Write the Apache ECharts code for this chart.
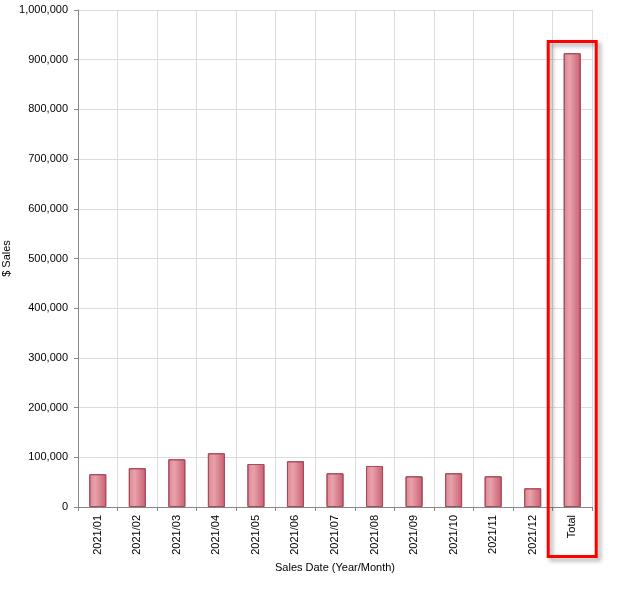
<!DOCTYPE html>
<html><head><meta charset="utf-8">
<script src="https://cdn.jsdelivr.net/npm/echarts@6/dist/echarts.min.js"></script>
<style>html,body{margin:0;padding:0;background:#fff}#c{width:635px;height:589px}</style>
</head><body><div id="c"></div>
<script>
var categories = ['2021/01','2021/02','2021/03','2021/04','2021/05','2021/06','2021/07','2021/08','2021/09','2021/10','2021/11','2021/12','Total'];
var sales = [66000, 78000, 96000, 108000, 86500, 92000, 67800, 82500, 61700, 67800, 61700, 37600, 913000];
var yTicks = {min: 0, max: 1000000, interval: 100000};

var chart = echarts.init(document.getElementById('c'), null, {renderer: 'canvas'});
var font = 'Arial, "Liberation Sans", sans-serif';
var barColor = new echarts.graphic.LinearGradient(0, 0, 1, 0, [
  {offset: 0, color: '#dc8591'},
  {offset: 0.35, color: '#e8a2ac'},
  {offset: 1, color: '#c95f70'}
]);
chart.setOption({
  animation: false,
  grid: {left: 78, right: 43, top: 10, bottom: 82, containLabel: false, outerBoundsMode: 'none'},
  xAxis: {
    type: 'category', data: categories, boundaryGap: true,
    name: 'Sales Date (Year/Month)', nameLocation: 'middle', nameGap: 55, nameMoveOverlap: false,
    nameTextStyle: {fontFamily: font, fontSize: 11, color: '#000'},
    axisLine: {lineStyle: {color: '#888'}},
    axisTick: {show: true, length: 4, lineStyle: {color: '#888'}},
    axisLabel: {rotate: 90, margin: 8, fontFamily: font, fontSize: 11, color: '#000', interval: 0},
    splitLine: {show: true, lineStyle: {color: '#dcdcdc'}}
  },
  yAxis: {
    type: 'value', min: yTicks.min, max: yTicks.max, interval: yTicks.interval,
    name: '$ Sales', nameLocation: 'middle', nameGap: 66, nameRotate: 90, nameMoveOverlap: false,
    nameTextStyle: {fontFamily: font, fontSize: 11, color: '#000'},
    axisLine: {show: true, lineStyle: {color: '#888'}},
    axisTick: {show: true, length: 4, lineStyle: {color: '#888'}},
    axisLabel: {margin: 10, fontFamily: font, fontSize: 11, color: '#000',
      formatter: function(v){ return v.toLocaleString('en-US'); }},
    splitLine: {show: true, lineStyle: {color: '#dcdcdc'}}
  },
  series: [{
    type: 'bar', data: sales, barWidth: 17,
    itemStyle: {color: barColor, borderColor: '#a84a5a', borderWidth: 1}
  }]
});
var cx = chart.convertToPixel({xAxisIndex: 0}, 'Total');
chart.setOption({
  graphic: [{
    type: 'rect', z: 100,
    shape: {x: cx - 24, y: 41.5, width: 48, height: 515},
    style: {fill: 'none', stroke: '#ff0000', lineWidth: 3,
      shadowBlur: 4, shadowOffsetX: 3, shadowOffsetY: 3, shadowColor: 'rgba(0,0,0,0.35)'}
  }]
});
</script></body></html>
